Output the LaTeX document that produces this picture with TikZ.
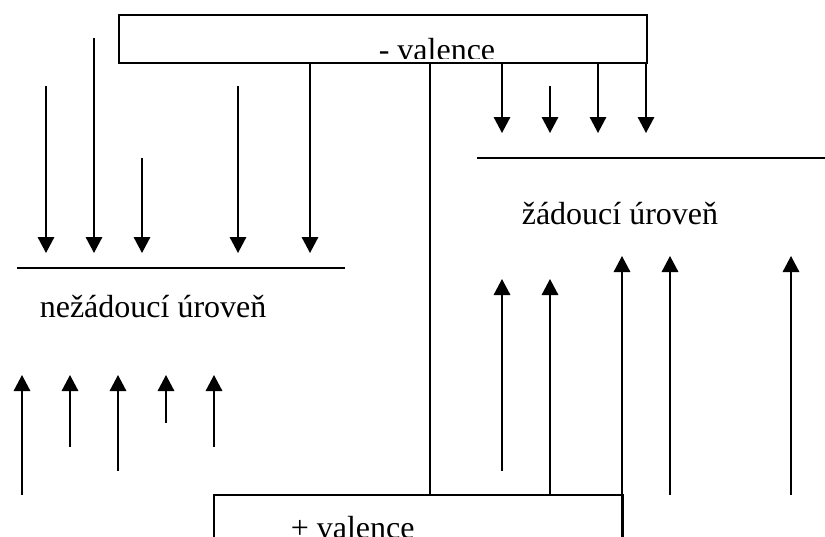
\documentclass[tikz,border=0pt]{standalone}
\usepackage{fontspec}
\setmainfont{Liberation Serif}
\usetikzlibrary{arrows.meta}
\begin{document}
\begin{tikzpicture}[x=1pt,y=-1pt,line width=1.6pt,
  arr/.style={-{Triangle[width=16.5pt,length=16pt]}},
  lbl/.style={inner sep=0pt,font=\fontsize{32}{38}\selectfont},
  boxstyle/.style={draw,rectangle,inner sep=0pt,anchor=north west}]
\clip (0,0) rectangle (825,536);
\useasboundingbox (0,0) rectangle (825,536);
% boxes
\node[boxstyle,minimum width=528pt,minimum height=48pt] (neg) at (118,14) {};
\node[boxstyle,minimum width=409pt,minimum height=70pt] (pos) at (213,494) {};
\begin{scope}
  \clip (120,16) rectangle (644,58.5);
  \node[lbl,anchor=base west] (negt) at (378,60) {- valence};
\end{scope}
\node[lbl,anchor=base west] (post) at (290,538) {+ valence};
% levels
\coordinate (l1a) at (17,268); \coordinate (l1b) at (345,268);
\draw (l1a) -- (l1b);
\coordinate (l2a) at (477,158); \coordinate (l2b) at (825,158);
\draw (l2a) -- (l2b);
\node[lbl,anchor=base west] (bad) at (39,317) {nežádoucí úroveň};
\node[lbl,anchor=base west] (good) at (521,224) {žádoucí úroveň};
% long connector between boxes
\coordinate (c1) at (430,62); \coordinate (c2) at (430,494);
\draw (c1) -- (c2);
% down arrows
\foreach \i/\x/\a/\b in {1/46/86/253, 2/94/38/253, 3/142/158/253, 4/238/86/253, 5/310/62/253,
                         6/502/62/133, 7/550/86/133, 8/598/62/133, 9/646/62/133} {
  \coordinate (ds\i) at (\x,\a); \coordinate (de\i) at (\x,\b);
  \draw[arr] (ds\i) -- (de\i);
}
% up arrows
\foreach \i/\x/\a/\b in {1/22/495/375, 2/70/447/375, 3/118/471/375, 4/166/423/375, 5/214/447/375,
                         6/502/471/279, 7/550/494/279, 8/622/540/256, 9/670/495/256, 10/791/495/256} {
  \coordinate (us\i) at (\x,\a); \coordinate (ue\i) at (\x,\b);
  \draw[arr] (us\i) -- (ue\i);
}
\end{tikzpicture}
\end{document}
